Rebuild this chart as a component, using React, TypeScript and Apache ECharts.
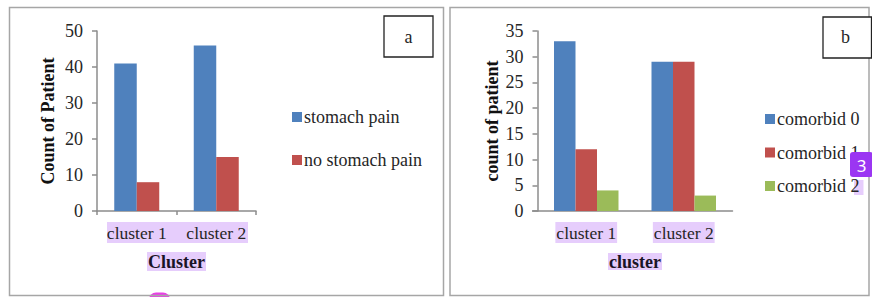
import React, { useEffect, useRef } from "react";
import * as echarts from "echarts";

const clustersA = ["cluster 1", "cluster 2"];
const stomachPain = [41, 46];
const noStomachPain = [8, 15];

const clustersB = ["cluster 1", "cluster 2"];
const comorbid0 = [33, 29];
const comorbid1 = [12, 29];
const comorbid2 = [4, 3];

const serif = "Liberation Serif";
const BLUE = "#4f81bd";
const RED = "#c0504d";
const GREEN = "#9bbb59";
const AXIS = "#8c8c8c";
const TXT = "#262626";
const HL = "#e6cdfc";

export default function App() {
  const ref = useRef<HTMLDivElement>(null);
  useEffect(() => {
    document.body.style.margin = "0";
    const chart = echarts.init(ref.current!, null, { renderer: "svg" });
    const yLabel = { fontFamily: serif, fontSize: 18, color: TXT, margin: 14 };
    const option: any = {
      animation: false,
      backgroundColor: "#ffffff",
      textStyle: { fontFamily: serif },
      grid: [
        { left: 97, top: 31, width: 159, height: 180 },
        { left: 537.5, top: 31, width: 195, height: 180 },
      ],
      xAxis: [
        {
          type: "category",
          gridIndex: 0,
          data: clustersA,
          axisLine: { lineStyle: { color: AXIS, width: 1.5 } },
          axisTick: { show: true, length: 4, lineStyle: { color: AXIS, width: 1.5 } },
          axisLabel: { fontFamily: serif, fontSize: 17.5, color: TXT, margin: 12, lineHeight: 20 },
          name: "Cluster",
          nameLocation: "middle",
          nameGap: 41,
          nameTextStyle: {
            fontFamily: serif, fontSize: 18, fontWeight: "bold", color: "#1a1426",
            backgroundColor: HL, padding: [0, 1, 0, 1], lineHeight: 19,
          },
        },
        {
          type: "category",
          gridIndex: 1,
          data: clustersB,
          axisLine: { lineStyle: { color: AXIS, width: 1.5 } },
          axisTick: { show: false },
          axisLabel: {
            fontFamily: serif, fontSize: 17.5, color: TXT, margin: 11, lineHeight: 20,
            backgroundColor: HL, padding: [1, 1, 0, 1],
          },
          name: "cluster",
          nameLocation: "middle",
          nameGap: 42,
          nameTextStyle: {
            fontFamily: serif, fontSize: 18, fontWeight: "bold", color: "#1a1426",
            backgroundColor: HL, padding: [0, 1, 0, 1], lineHeight: 17,
          },
        },
      ],
      yAxis: [
        {
          type: "value",
          gridIndex: 0,
          min: 0,
          max: 50,
          interval: 10,
          splitLine: { show: false },
          axisLine: { show: true, lineStyle: { color: AXIS, width: 1.5 } },
          axisTick: { show: true, length: 5, lineStyle: { color: AXIS, width: 1.5 } },
          axisLabel: yLabel,
          name: "Count of Patient",
          nameLocation: "middle",
          nameRotate: 90,
          nameGap: 40,
          nameTextStyle: { fontFamily: serif, fontSize: 18, fontWeight: "bold", color: "#111" },
        },
        {
          type: "value",
          gridIndex: 1,
          min: 0,
          max: 35,
          interval: 5,
          splitLine: { show: false },
          axisLine: { show: true, lineStyle: { color: AXIS, width: 1.5 } },
          axisTick: { show: true, length: 5, lineStyle: { color: AXIS, width: 1.5 } },
          axisLabel: yLabel,
          name: "count of patient",
          nameLocation: "middle",
          nameRotate: 90,
          nameGap: 37,
          nameTextStyle: { fontFamily: serif, fontSize: 18, fontWeight: "bold", color: "#111" },
        },
      ],
      legend: [
        {
          orient: "vertical",
          left: 292,
          top: 107,
          padding: 0,
          itemWidth: 10,
          itemHeight: 10,
          itemGap: 23,
          icon: "rect",
          data: ["stomach pain", "no stomach pain"],
          textStyle: { fontFamily: serif, fontSize: 18, color: TXT, lineHeight: 20, padding: [0, 0, 0, -3] },
        },
        {
          orient: "vertical",
          left: 765,
          top: 109,
          padding: 0,
          itemWidth: 10,
          itemHeight: 10,
          itemGap: 13.5,
          icon: "rect",
          data: ["comorbid 0", "comorbid 1", "comorbid 2"],
          textStyle: { fontFamily: serif, fontSize: 18, color: TXT, lineHeight: 20, padding: [0, 0, 0, -3] },
        },
      ],
      series: [
        { name: "stomach pain", type: "bar", xAxisIndex: 0, yAxisIndex: 0, data: stomachPain, barWidth: 22.5, barGap: "0%", itemStyle: { color: BLUE } },
        { name: "no stomach pain", type: "bar", xAxisIndex: 0, yAxisIndex: 0, data: noStomachPain, barWidth: 22.5, barGap: "0%", itemStyle: { color: RED } },
        { name: "comorbid 0", type: "bar", xAxisIndex: 1, yAxisIndex: 1, data: comorbid0, barWidth: 21.5, barGap: "0%", itemStyle: { color: BLUE } },
        { name: "comorbid 1", type: "bar", xAxisIndex: 1, yAxisIndex: 1, data: comorbid1, barWidth: 21.5, barGap: "0%", itemStyle: { color: RED } },
        { name: "comorbid 2", type: "bar", xAxisIndex: 1, yAxisIndex: 1, data: comorbid2, barWidth: 21.5, barGap: "0%", itemStyle: { color: GREEN } },
      ],
      graphic: [
        { type: "rect", z: -10, shape: { x: 107, y: 222, width: 141, height: 21 }, style: { fill: HL } },
        { type: "rect", z: -10, shape: { x: 854, y: 180, width: 9.5, height: 15 }, style: { fill: HL } },
        { type: "rect", z: -5, shape: { x: 149, y: 292.5, width: 21, height: 8, r: [7, 7, 0, 0] }, style: { fill: "#ea3fe6" } },
        { type: "rect", shape: { x: 9.5, y: 7.5, width: 434, height: 288 }, style: { fill: "none", stroke: "#a6a6a6", lineWidth: 1.5 } },
        { type: "rect", shape: { x: 450, y: 7.5, width: 419, height: 288 }, style: { fill: "none", stroke: "#a6a6a6", lineWidth: 1.5 } },
        { type: "line", shape: { x1: 532, y1: 211, x2: 537.5, y2: 211 }, style: { stroke: AXIS, lineWidth: 1.5 } },
        { type: "rect", shape: { x: 384, y: 16, width: 49, height: 41 }, style: { fill: "#fff", stroke: "#222", lineWidth: 1.3 } },
        { type: "text", x: 408.5, y: 37, style: { text: "a", fontFamily: serif, fontSize: 18, fill: TXT, align: "center", verticalAlign: "middle" } },
        { type: "rect", shape: { x: 823, y: 17, width: 48.5, height: 41 }, style: { fill: "#fff", stroke: "#222", lineWidth: 1.3 } },
        { type: "text", x: 845.5, y: 37, style: { text: "b", fontFamily: serif, fontSize: 18, fill: TXT, align: "center", verticalAlign: "middle" } },
        { type: "rect", z: 100, shape: { x: 850, y: 152, width: 23, height: 25, r: 3 }, style: { fill: "#9b36f2" } },
        { type: "text", z: 101, x: 861.5, y: 165, style: { text: "3", fontFamily: "Noto Sans", fontSize: 17, fill: "#ffffff", align: "center", verticalAlign: "middle" } },
      ],
    };
    chart.setOption(option);
    return () => chart.dispose();
  }, []);
  return <div ref={ref} style={{ width: 872, height: 297 }} />;
}
